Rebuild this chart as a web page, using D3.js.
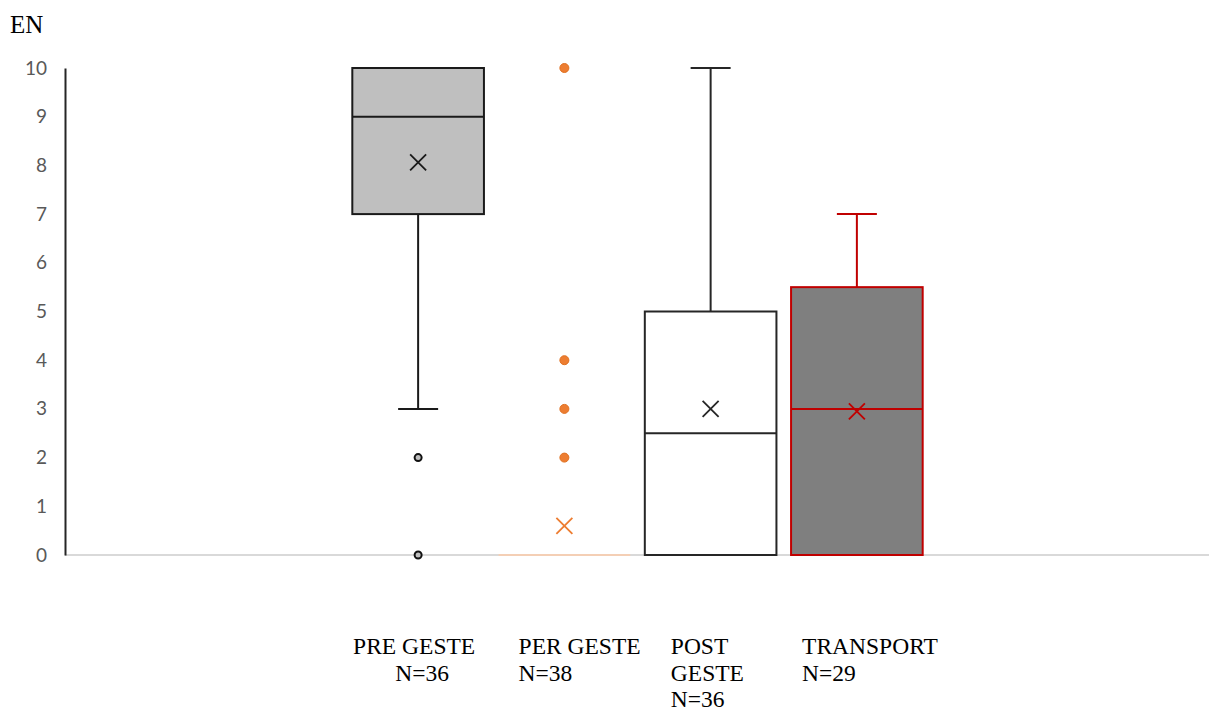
<!DOCTYPE html>
<html>
<head>
<meta charset="utf-8">
<script src="https://cdn.jsdelivr.net/npm/d3@7"></script>
<style>
  body { margin: 0; background: #fff; }
</style>
</head>
<body>
<div class="chart"></div>
<script>
// chart values
const series = ["PRE GESTE", "PER GESTE", "POST GESTE", "TRANSPORT"];
const labelLines = [["PRE GESTE", "N=36"], ["PER GESTE", "N=38"], ["POST", "GESTE", "N=36"], ["TRANSPORT", "N=29"]];
const q1 = [7, 0, 0, 0];
const median = [9, 0, 2.5, 3];
const q3 = [10, 0, 5, 5.5];
const whiskerLow = [3, 0, 0, 0];
const whiskerHigh = [10, 0, 10, 7];
const means = [8.06, 0.6, 3.0, 2.95];
const outliers = [[2, 0], [10, 4, 3, 2], [], []];
const yTicks = [0, 1, 2, 3, 4, 5, 6, 7, 8, 9, 10];

// styles per series
const fills = ["#bfbfbf", "none", "#ffffff", "#7f7f7f"];
const strokes = ["#1a1a1a", "#ed7d31", "#262626", "#c00000"];

const w = 1209;
const h = 711;
const svg = d3.select('.chart')
    .append('svg')
    .attr('width', w)
    .attr('height', h);

const x = d3.scaleBand()
    .domain(series)
    .range([345, 930])
    .paddingInner(0.1)
    .paddingOuter(0.05);

const y = d3.scaleLinear()
    .domain([0, 10])
    .range([555, 68]);

// baseline
svg.append("line")
    .attr("x1", 65).attr("x2", w)
    .attr("y1", y(0)).attr("y2", y(0))
    .attr("stroke", "#d9d9d9")
    .attr("stroke-width", 2);

// y axis
const yAxis = svg.append("g")
    .attr("transform", "translate(65,0)")
    .call(d3.axisLeft(y).tickValues(yTicks).tickSize(0).tickPadding(18));
yAxis.select(".domain").attr("stroke", "#262626").attr("stroke-width", 2);
yAxis.selectAll("text")
    .attr("font-family", "Lato, 'Open Sans', sans-serif")
    .attr("font-size", 19)
    .attr("fill", "#595959");

svg.append("text")
    .text("EN")
    .attr("x", 10)
    .attr("y", 33)
    .attr("font-family", "'Liberation Serif', serif")
    .attr("font-size", 25);

const bw = x.bandwidth();
const cx = s => x(s) + bw / 2;

series.forEach((s, i) => {
    const g = svg.append("g");
    const c = cx(s);

    // whiskers
    [[whiskerHigh[i], q3[i]], [whiskerLow[i], q1[i]]].forEach(pair => {
        if (pair[0] === pair[1]) return;
        g.append("line")
            .attr("x1", c).attr("x2", c)
            .attr("y1", y(pair[0])).attr("y2", y(pair[1]))
            .attr("stroke", strokes[i]).attr("stroke-width", 2);
        g.append("line")
            .attr("x1", c - 20).attr("x2", c + 20)
            .attr("y1", y(pair[0])).attr("y2", y(pair[0]))
            .attr("stroke", strokes[i]).attr("stroke-width", 2);
    });

    // box
    if (q3[i] > q1[i]) {
        g.append("rect")
            .attr("x", x(s))
            .attr("y", y(q3[i]))
            .attr("width", bw)
            .attr("height", y(q1[i]) - y(q3[i]))
            .attr("fill", fills[i])
            .attr("stroke", strokes[i])
            .attr("stroke-width", 2);
        g.append("line")
            .attr("x1", x(s)).attr("x2", x(s) + bw)
            .attr("y1", y(median[i])).attr("y2", y(median[i]))
            .attr("stroke", strokes[i]).attr("stroke-width", 2);
    } else {
        // collapsed box, faint line at the value
        g.append("line")
            .attr("x1", x(s)).attr("x2", x(s) + bw)
            .attr("y1", y(q1[i])).attr("y2", y(q1[i]))
            .attr("stroke", "#f4cfb5").attr("stroke-width", 2);
    }

    // mean marker
    const m = y(means[i]);
    g.append("path")
        .attr("d", `M${c - 8},${m - 8}L${c + 8},${m + 8}M${c - 8},${m + 8}L${c + 8},${m - 8}`)
        .attr("stroke", i === 1 ? "#ed7d31" : strokes[i])
        .attr("stroke-width", 1.8)
        .attr("fill", "none");

    // outliers
    g.selectAll("circle")
        .data(outliers[i])
        .enter()
        .append("circle")
        .attr("cx", c)
        .attr("cy", d => y(d))
        .attr("r", i === 1 ? 4.5 : 3.5)
        .attr("fill", i === 1 ? "#ed7d31" : "#bfbfbf")
        .attr("stroke", i === 1 ? "#e07020" : "#111")
        .attr("stroke-width", i === 1 ? 1 : 2);
});

// category labels under the chart
const labelDx = [0, 20, 26, 11];
series.forEach((s, i) => {
    const t = svg.append("text")
        .attr("font-family", "'Liberation Serif', serif")
        .attr("font-size", 23.5)
        .attr("fill", "#000")
        .attr("text-anchor", i === 0 ? "middle" : "start");
    const lx = i === 0 ? cx(s) - 4 : x(s) + labelDx[i];
    labelLines[i].forEach((line, j) => {
        t.append("tspan")
            .attr("x", i === 0 && j > 0 ? lx + 8 : lx)
            .attr("y", 654 + j * 26.5)
            .text(line);
    });
});
</script>
</body>
</html>
